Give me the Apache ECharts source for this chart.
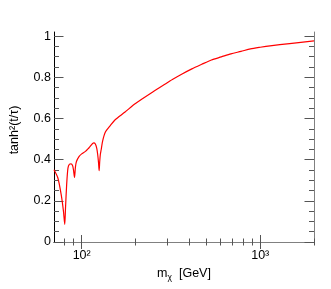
<!DOCTYPE html>
<html>
<head>
<meta charset="utf-8">
<script src="https://cdn.jsdelivr.net/npm/echarts@6/dist/echarts.min.js"></script>
<style>html,body{margin:0;padding:0;background:#fff}#c{width:331px;height:289px}</style>
</head>
<body>
<div id="c"></div>
<script>
// Data
const masses = [70, 73.6, 76.8, 79.1, 80.4, 81.2, 82.4, 83.8, 85.5, 87.1, 88.9, 90.0, 91.2, 92.3, 93.5, 96.8, 100, 105, 110, 116.9, 119.3, 121.5, 123, 124.3, 125.3, 126.2, 127.2, 128.6, 131, 136, 145, 154, 175, 194, 220, 250, 285, 322, 365, 414, 470, 533, 605, 685, 780, 882, 1000, 1134, 1460, 2000];
const values = [0.351, 0.311, 0.230, 0.149, 0.085, 0.165, 0.278, 0.359, 0.378, 0.379, 0.372, 0.35, 0.314, 0.365, 0.391, 0.416, 0.428, 0.44, 0.458, 0.481, 0.476, 0.455, 0.424, 0.385, 0.346, 0.39, 0.425, 0.448, 0.49, 0.535, 0.567, 0.594, 0.631, 0.664, 0.697, 0.729, 0.760, 0.789, 0.816, 0.841, 0.863, 0.884, 0.899, 0.914, 0.926, 0.938, 0.946, 0.953, 0.964, 0.977];
const xMajorTicks = [100, 1000];
const xMinorTicks = [80, 90, 200, 300, 400, 500, 600, 700, 800, 900, 2000];
const xTickLabels = {100: '10²', 1000: '10³'};
const yMajorTicks = [0, 0.2, 0.4, 0.6, 0.8, 1];
const yMinorTicks = [0.05, 0.1, 0.15, 0.25, 0.3, 0.35, 0.45, 0.5, 0.55, 0.65, 0.7, 0.75, 0.85, 0.9, 0.95];
const xName = 'm';
const xNameSub = 'χ';
const xNameUnit = '  [GeV]';
const yName = 'tanh²(t/τ)';

const FONT = '"Liberation Sans", Arial, Helvetica, sans-serif';
const X_MIN = 70, X_MAX = 2000, Y_MIN = 0, Y_MAX = 1.02;

function xAx(pos, ticks, len, opts) {
  return Object.assign({
    type: 'log', logBase: 10, min: X_MIN, max: X_MAX, position: pos,
    axisLine: {show: false},
    axisTick: {show: true, inside: true, length: len, customValues: ticks, lineStyle: {color: '#555', width: 1}},
    axisLabel: {show: false},
    splitLine: {show: false}, minorTick: {show: false}
  }, opts || {});
}
function yAx(pos, ticks, len, opts) {
  return Object.assign({
    type: 'value', min: Y_MIN, max: Y_MAX, position: pos,
    axisLine: {show: false},
    axisTick: {show: true, inside: true, length: len, customValues: ticks, lineStyle: {color: '#555', width: 1}},
    axisLabel: {show: false},
    splitLine: {show: false}, minorTick: {show: false}
  }, opts || {});
}

const chart = echarts.init(document.getElementById('c'), null, {renderer: 'canvas'});
chart.setOption({
  animation: false,
  backgroundColor: '#fff',
  grid: {left: 49, right: 17, top: 32, bottom: 47, containLabel: false},
  xAxis: [
    xAx('bottom', xMajorTicks, 7, {
      axisLine: {show: true, lineStyle: {color: '#000', width: 1}},
      axisLabel: {show: true, customValues: xMajorTicks, margin: 7, color: '#000', fontFamily: FONT, fontSize: 12.5,
        formatter: v => xTickLabels[Math.round(v)] || ''},
      name: '{m|' + xName + '}{s|' + xNameSub + '}{u|' + xNameUnit + '}',
      nameLocation: 'middle', nameGap: 13,
      nameTextStyle: {rich: {
        m: {fontFamily: FONT, fontSize: 12.5, color: '#000', lineHeight: 18, verticalAlign: 'middle'},
        s: {fontFamily: FONT, fontSize: 8.5, color: '#000', lineHeight: 9, verticalAlign: 'bottom'},
        u: {fontFamily: FONT, fontSize: 12.5, color: '#000', lineHeight: 18, verticalAlign: 'middle'}
      }}
    }),
    xAx('bottom', xMinorTicks, 3.5),
    xAx('top', xMajorTicks, 7, {axisLine: {show: true, lineStyle: {color: '#808080', width: 1}}}),
    xAx('top', xMinorTicks, 3.5)
  ],
  yAxis: [
    yAx('left', yMajorTicks, 9.5, {
      axisLine: {show: true, lineStyle: {color: '#000', width: 1}},
      axisLabel: {show: true, customValues: yMajorTicks, margin: 3, color: '#000', fontFamily: FONT, fontSize: 12.5,
        formatter: v => String(Math.round(v * 10) / 10)},
      name: yName, nameLocation: 'middle', nameGap: 33, nameRotate: 90,
      nameTextStyle: {fontFamily: FONT, fontSize: 12.5, color: '#000', padding: [0, 0, 0, 14]}
    }),
    yAx('left', yMinorTicks, 5),
    yAx('right', yMajorTicks, 9.5, {axisLine: {show: true, lineStyle: {color: '#808080', width: 1}}}),
    yAx('right', yMinorTicks, 5)
  ],
  series: [{
    type: 'line', xAxisIndex: 0, yAxisIndex: 0,
    data: masses.map((m, i) => [m, values[i]]),
    showSymbol: false, smooth: 0.25,
    lineStyle: {color: '#ff0000', width: 1.2},
    clip: true
  }]
});
</script>
</body>
</html>
